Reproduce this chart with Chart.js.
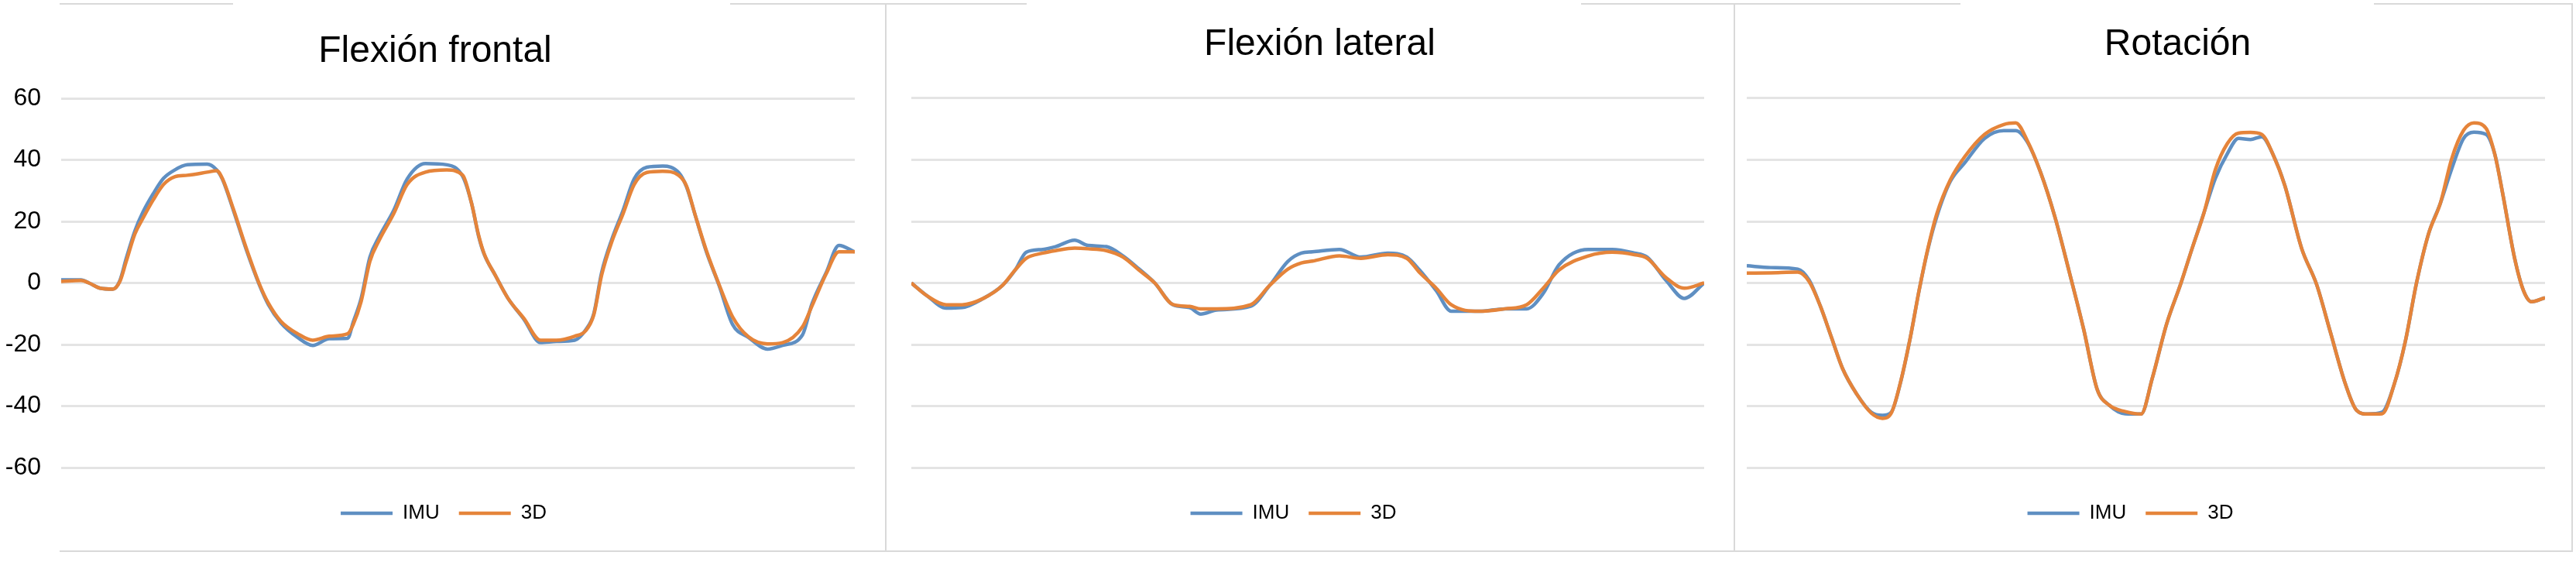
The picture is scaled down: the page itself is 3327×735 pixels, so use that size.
<!DOCTYPE html>
<html>
<head>
<meta charset="utf-8">
<script src="https://cdn.jsdelivr.net/npm/chart.js@4.4.0/dist/chart.umd.min.js"></script>
<style>
  html, body { margin: 0; padding: 0; background: #fff; }
  #page { position: relative; width: 3327px; height: 735px; overflow: hidden; background: #fff; }
  canvas { position: absolute; top: 0; }
  .rule { position: absolute; background: #d9d9d9; }
</style>
</head>
<body>
<div id="page">
  <canvas id="frontal" width="1144" height="713" style="left:0px"></canvas>
  <canvas id="lateral" width="1092" height="713" style="left:1146px"></canvas>
  <canvas id="rotacion" width="1078" height="713" style="left:2242px"></canvas>
</div>
<script>
// tick labels shared by the three panels
const yTicks = [-60, -40, -20, 0, 20, 40, 60];
const seriesNames = ['IMU', '3D'];

// Flexión frontal (x = % of the recording)
const frontalX = [0, 2.5, 3.5, 4.9, 6.5, 7.4, 8.2, 9.3, 10.3, 11.6, 12.9, 14.3, 15.9, 18.4, 19.6, 20.3, 21.7, 23.3, 25, 26.1, 27.7, 29.8, 31.7, 33.8, 36.1, 36.8, 37.8, 38.9, 40.1, 41.9, 43.6, 45.9, 48.6, 50.6, 51.7, 52.6, 53.3, 54.7, 56.3, 58.3, 60.4, 62.4, 64.7, 66.1, 67.1, 68.1, 69.4, 70.8, 72.2, 73.8, 75.8, 77.8, 78.8, 79.9, 81.3, 82.9, 84.6, 86.6, 89, 90.9, 93.4, 94.6, 96.4, 98, 100];
const frontalIMU = [1, 1, 0, -1.7, -2, 0.8, 8, 17, 23, 29, 34, 36.7, 38.4, 38.6, 36.7, 33.8, 23.6, 11, -0.8, -7, -13, -17.7, -20.3, -18.1, -18, -12.7, -5, 8.4, 15.2, 23.6, 33.8, 38.8, 38.4, 34.6, 26, 15.2, 9.3, 2.5, -5, -11.8, -19.4, -19, -18.6, -15.2, -10.1, 3.4, 14.3, 23.6, 33.8, 37.6, 38, 35.9, 31.2, 21.9, 10.1, -0.8, -13.5, -17.7, -21.5, -20.3, -16.9, -6.8, 3.4, 12.2, 10.1];
const frontal3D = [0.5, 0.8, 0, -1.7, -2, 0.5, 7, 16, 21, 27, 32, 34.5, 35, 36, 36.5, 34, 24, 11.5, -0.5, -6.5, -12.5, -16.5, -18.6, -17.3, -16.5, -13.5, -6, 7, 14, 22.5, 32, 36, 36.7, 35, 26, 15.5, 9.5, 2.5, -5, -11.5, -18.6, -18.6, -17.3, -15.5, -10.5, 2.5, 13.5, 22.5, 32, 35.9, 36.3, 35, 31.5, 22, 10.5, -0.5, -11, -17.5, -19.8, -19.4, -14.3, -7.5, 3, 10.1, 10.1];

// Flexión lateral
const lateralX = [0, 2, 4.4, 6.4, 9.1, 11.5, 13.1, 14.5, 16.6, 18.2, 20.6, 22.3, 24.6, 26.7, 28.7, 30.7, 33, 35.1, 36.5, 38.5, 42.8, 45.2, 47.5, 49.2, 50.6, 54, 56.7, 60.1, 62.5, 64.1, 66.2, 68.1, 71.6, 74.9, 77.6, 79.7, 81.7, 85.4, 88.4, 91.2, 92.8, 95.2, 97.5, 100];
const lateralIMU = [0, -4.2, -8.2, -8, -5, -0.8, 4.2, 10, 10.9, 11.8, 13.9, 12.2, 11.8, 8.8, 4.6, 0, -7.1, -8, -10.1, -8.8, -7.6, -0.8, 7, 9.7, 10.1, 10.9, 8.4, 9.7, 8.4, 4.2, -2.5, -9.2, -9.2, -8.4, -8.4, -3.4, 5.9, 10.9, 10.9, 9.7, 8.4, 0.8, -5, 0];
const lateral3D = [0, -4.2, -7.1, -7.1, -5, -0.8, 4.2, 8, 9.7, 10.5, 11.3, 11.1, 10.5, 8.4, 4.2, 0, -7, -7.6, -8.4, -8.4, -7.1, -0.8, 4.5, 6.5, 7.1, 8.8, 8, 9.2, 8, 3.4, -1.7, -7.1, -9.2, -8.4, -7.1, -1.7, 4.2, 8.8, 10, 9.2, 8, 1.7, -1.7, 0];

// Rotación
const rotacionX = [0, 3, 6.4, 7.8, 9.2, 10.6, 12, 13.8, 15.6, 17, 18.1, 19.2, 20.5, 21.6, 22.7, 23.8, 25.5, 27.3, 29.8, 32.2, 33.7, 35.1, 36.8, 38.6, 40.4, 42.2, 43.9, 45.4, 47.4, 49.4, 50.8, 52.6, 54.4, 55.8, 57.3, 58.7, 60.2, 61.6, 63.1, 64.5, 65.9, 67.4, 69.5, 71.4, 73.1, 75, 76.4, 77.8, 79.6, 81.1, 82.5, 83.9, 85.4, 86.9, 88.3, 89.8, 91.1, 92.6, 93.7, 94.7, 96.2, 97.3, 98.3, 100];
const rotacionIMU = [5.6, 5, 4.5, 1, -7.4, -17.6, -27.8, -36.2, -42, -43, -42, -33, -17.6, -2.3, 11, 21.5, 33, 39, 47, 49.5, 49.5, 46, 36, 21.5, 3.6, -15, -34.6, -39.7, -42.5, -42.6, -31, -13.3, 0, 11.3, 23, 34, 42, 47, 46.6, 47.5, 41.9, 31.7, 11.3, -0.6, -15.9, -32.9, -41.4, -42.6, -42, -33, -19, 0, 15.9, 26, 37, 47, 49, 48.3, 41.9, 29, 7.9, -2.5, -6.1, -4.8];
const rotacion3D = [3.2, 3.3, 3.5, 0.5, -7.4, -17.6, -27.8, -36.2, -42.3, -44, -42.3, -32.9, -17.6, -2.3, 11.3, 22.4, 33.5, 41, 48.3, 51.5, 52, 46.5, 36, 21.5, 3.6, -15, -34.6, -39.7, -41.8, -42.6, -31, -13.3, 0, 11.3, 23, 36.8, 45.3, 48.7, 48.9, 48.3, 41.9, 31.7, 11.3, -0.6, -15.9, -32.9, -41.4, -42.6, -42.5, -33, -19, 0, 15.9, 26, 40.3, 49.6, 52, 50.3, 41.9, 29, 7.9, -2.5, -6.1, -4.8];

const FONT = '"Liberation Sans", Arial, sans-serif';
const IMU_COLOR = '#5f8fc2';
const D3_COLOR = '#e5843a';

function pts(xs, ys) {
  return xs.map((x, i) => ({ x: x, y: ys[i] }));
}

// nudges the title / legend sideways, they are not centred on the panel in the original
const shiftBoxes = {
  id: 'shiftBoxes',
  afterLayout(chart, args, opts) {
    if (chart.titleBlock) { chart.titleBlock.left += opts.title; chart.titleBlock.right += opts.title; }
    if (chart.legend) { chart.legend.left += opts.legend; chart.legend.right += opts.legend; }
  }
};

function makeChart(id, title, xs, imu, d3, cfg) {
  const ctx = document.getElementById(id).getContext('2d');
  return new Chart(ctx, {
    type: 'line',
    data: {
      datasets: [
        { label: seriesNames[0], data: pts(xs, imu), borderColor: IMU_COLOR, backgroundColor: IMU_COLOR,
          borderWidth: 4.5, pointRadius: 0, cubicInterpolationMode: 'monotone', order: 1 },
        { label: seriesNames[1], data: pts(xs, d3), borderColor: D3_COLOR, backgroundColor: D3_COLOR,
          borderWidth: 4.5, pointRadius: 0, cubicInterpolationMode: 'monotone', order: 0 }
      ]
    },
    options: {
      responsive: false,
      animation: false,
      events: [],
      layout: { padding: { left: 0, right: cfg.padRight, top: 0, bottom: 27 } },
      plugins: {
        shiftBoxes: { title: cfg.titleShift, legend: cfg.legendShift },
        title: {
          display: true,
          text: title,
          color: '#000',
          font: { family: FONT, size: 48, weight: 'normal', lineHeight: 1.2 },
          padding: { top: cfg.titleTop, bottom: 127 - cfg.titleTop - 57.6 }
        },
        legend: {
          position: 'bottom',
          labels: {
            usePointStyle: true,
            pointStyle: 'line',
            pointStyleWidth: 67,
            color: '#000',
            font: { family: FONT, size: 26 },
            padding: 25,
            sort: (a, b) => a.datasetIndex - b.datasetIndex
          }
        },
        tooltip: { enabled: false }
      },
      scales: {
        x: {
          type: 'linear',
          min: 0,
          max: 100,
          grid: { display: false },
          border: { display: false },
          ticks: { display: false },
          afterFit: s => { s.height = 21; }
        },
        y: {
          min: yTicks[0],
          max: yTicks[yTicks.length - 1],
          afterBuildTicks: s => { s.ticks = yTicks.map(v => ({ value: v })); },
          ticks: { display: cfg.showTicks, padding: 26, color: '#000', font: { family: FONT, size: 32 } },
          grid: { color: '#e4e4e4', lineWidth: 3, drawTicks: false },
          border: { display: false },
          afterFit: s => { s.width = cfg.yWidth; }
        }
      }
    },
    plugins: [shiftBoxes]
  });
}

makeChart('frontal', 'Flexión frontal', frontalX, frontalIMU, frontal3D,
  { showTicks: true, yWidth: 79, padRight: 40, titleTop: 37.7, titleShift: 10, legendShift: 21 });
makeChart('lateral', 'Flexión lateral', lateralX, lateralIMU, lateral3D,
  { showTicks: false, yWidth: 31, padRight: 37, titleTop: 29.2, titleShift: 31, legendShift: -3 });
makeChart('rotacion', 'Rotación', rotacionX, rotacionIMU, rotacion3D,
  { showTicks: false, yWidth: 14, padRight: 33, titleTop: 29.2, titleShift: 48, legendShift: -13 });

// panel frame lines (top line is broken where the titles sit)
const rules = [
  [77, 4, 224, 2], [943, 4, 383, 2], [2042, 4, 490, 2], [3066, 4, 256, 2],
  [77, 711, 3245, 2],
  [1143, 4, 2, 709], [2239, 4, 2, 709], [3321, 4, 2, 709]
];
const page = document.getElementById('page');
rules.forEach(r => {
  const d = document.createElement('div');
  d.className = 'rule';
  d.style.left = r[0] + 'px';
  d.style.top = r[1] + 'px';
  d.style.width = r[2] + 'px';
  d.style.height = r[3] + 'px';
  page.appendChild(d);
});
</script>
</body>
</html>
